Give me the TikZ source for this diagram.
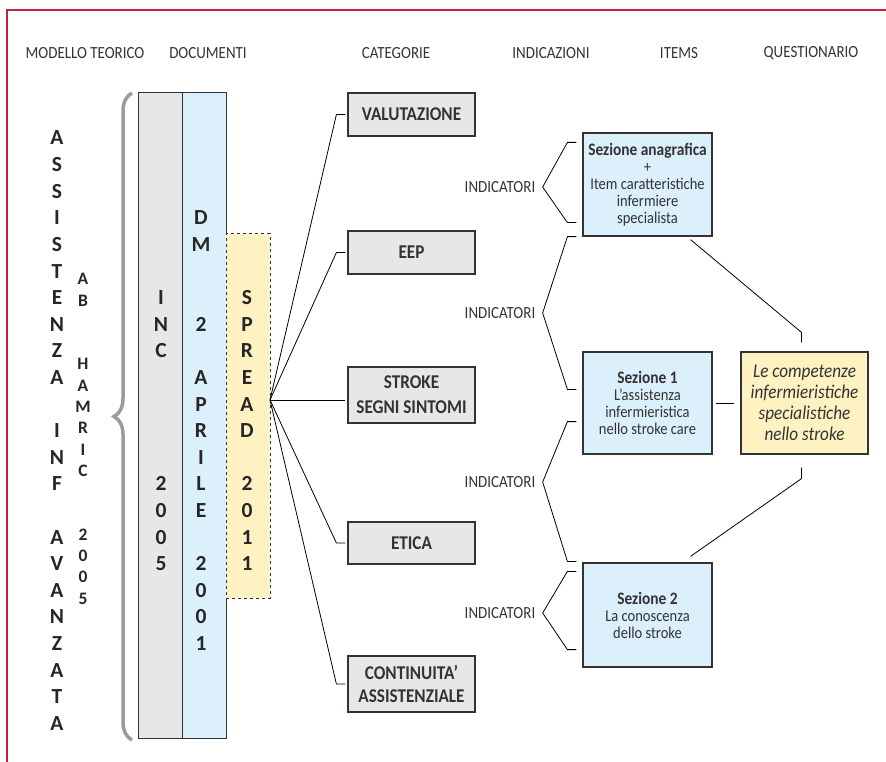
\documentclass[tikz,border=0pt]{standalone}
\usepackage{fontspec}
\setmainfont{Carlito}[FakeStretch=0.88]
\newfontfamily\letterfont{Carlito}
\usepackage{xcolor}
\usepackage{tikz}
\usetikzlibrary{positioning, decorations.pathreplacing}
\definecolor{framered}{HTML}{C8203A}
\definecolor{boxgray}{HTML}{E6E7E8}
\definecolor{boxblue}{HTML}{DBF0FB}
\definecolor{boxyellow}{HTML}{FEF1C2}
\definecolor{bracegray}{HTML}{9A9B9D}
\definecolor{inkgray}{HTML}{333333}

\begin{document}
\begin{tikzpicture}[x=1pt,y=-1pt,line width=0.8pt]
	\tikzstyle{head}=[font=\fontsize{17}{19}\selectfont, text=inkgray]
	\tikzstyle{letter}=[inner sep=0pt, text height=14pt, text depth=0pt, font=\letterfont\fontsize{21.5}{22}\selectfont\bfseries, text=black!85]
	\tikzstyle{smallletter}=[letter, text height=11.5pt, font=\letterfont\fontsize{17.5}{17}\selectfont\bfseries]
	\tikzstyle{column}=[draw=inkgray, line width=1pt, minimum width=44pt, inner sep=0pt]
	\tikzstyle{cat}=[draw=inkgray, line width=1.2pt, fill=boxgray, minimum width=127pt, align=center, inner sep=0pt, text=inkgray, font=\fontsize{19.5}{23}\selectfont\bfseries]
	\tikzstyle{item}=[draw=inkgray, line width=1.2pt, fill=boxblue, minimum width=129pt, align=center, inner sep=0pt, text=inkgray, font=\fontsize{16.5}{17}\selectfont]
	\tikzstyle{ind}=[font=\fontsize{17}{18}\selectfont, text=inkgray, inner sep=1pt]
	\useasboundingbox (0,0) rectangle (886,762);
	% frame
	\draw[framered, line width=2pt] (7,762) -- (7,10) -- (887,10);
	% headers
	\node[head](h1) at (85,53) {MODELLO TEORICO};
	\node[head](h2) at (208,53) {DOCUMENTI};
	\node[head](h3) at (396,53) {CATEGORIE};
	\node[head](h4) at (551,53) {INDICAZIONI};
	\node[head](h5) at (679,53) {ITEMS};
	\node[head](h6) at (811,53) {QUESTIONARIO};
	% modello teorico
	\foreach \ch [count=\i from 0] in {A,S,S,I,S,T,E,N,Z,A,,I,N,F,,A,V,A,N,Z,A,T,A}
		\node[letter](ass\i) at (57,138+26.6*\i) {\ch};
	\foreach \ch [count=\i from 0] in {A,B,,,H,A,M,R,I,C,,,2,0,0,5}
		\node[smallletter](ham\i) at (83,279+21.3*\i) {\ch};
	\draw[bracegray, line width=3.5pt, decorate, decoration={brace, amplitude=18pt}] (132,740) -- (132,93);
	% documenti
	\node[column, fill=boxgray, minimum height=645pt](inc) at (160,415.5) {};
	\node[column, fill=boxblue, minimum height=645pt](dm) at (204,415.5) {};
	\node[column, fill=boxyellow, dashed, minimum height=364pt](spread) at (248,416) {};
	\foreach \ch [count=\i from 6] in {I,N,C,,,,,2,0,0,5}
		\node[letter](inc\i) at (161,138+26.6*\i) {\ch};
	\foreach \ch [count=\i from 3] in {D,M,,,2,,A,P,R,I,L,E,,2,0,0,1}
		\node[letter](dm\i) at (201,138+26.6*\i) {\ch};
	\foreach \ch [count=\i from 6] in {S,P,R,E,A,D,,2,0,1,1}
		\node[letter](sp\i) at (247,138+26.6*\i) {\ch};
	\coordinate (fan) at (270,400);
	% categorie
	\node[cat, minimum height=43pt](val) at (411.5,114.5) {VALUTAZIONE};
	\node[cat, minimum height=43pt](eep) at (411.5,252.5) {EEP};
	\node[cat, minimum height=56pt](str) at (411.5,395) {STROKE\\[2pt]SEGNI SINTOMI};
	\node[cat, minimum height=42pt](eti) at (411.5,543) {ETICA};
	\node[cat, minimum height=56pt](con) at (411.5,684) {CONTINUITA’\\ASSISTENZIALE};
	\draw (fan) -- ([xshift=-11pt]val.west) -- ([xshift=-2pt]val.west);
	\draw (fan) -- ([xshift=-11pt]eep.west) -- ([xshift=-2pt]eep.west);
	\draw (fan) -- ([xshift=-2pt]fan -| str.west);
	\draw (fan) -- ([xshift=-11pt]eti.west) -- ([xshift=-2pt]eti.west);
	\draw (fan) -- ([xshift=-11pt]con.west) -- ([xshift=-2pt]con.west);
	% items
	\node[item, minimum height=103pt](sana) at (647.5,184.5) {\textbf{\fontsize{17.5}{17}\selectfont Sezione anagrafica}\\+\\Item caratteristiche\\infermiere\\specialista};
	\node[item, minimum height=102pt](sez1) at (647.5,403) {\textbf{\fontsize{17.5}{17}\selectfont Sezione 1}\\L’assistenza\\infermieristica\\nello stroke care};
	\node[item, minimum height=104pt](sez2) at (647.5,615) {\textbf{\fontsize{17.5}{17}\selectfont Sezione 2}\\La conoscenza\\dello stroke};
	% indicazioni
	\node[ind](ind1) at (500,187) {INDICATORI};
	\node[ind](ind2) at (500,313) {INDICATORI};
	\node[ind](ind3) at (500,482) {INDICATORI};
	\node[ind](ind4) at (500,613) {INDICATORI};
	\draw ([xshift=-6pt,yshift=-10pt]sana.north west) -- ++(-9,0) -- ([xshift=6pt]ind1.east) -- ([xshift=-15pt,yshift=14pt]sana.south west) -- ++(9,0);
	\draw ([xshift=-6pt]sana.south west) -- ++(-9,0) -- ([xshift=6pt]ind2.east) -- ([xshift=-15pt,yshift=-38pt]sez1.north west) -- ++(9,0);
	\draw ([xshift=-6pt,yshift=33pt]sez1.south west) -- ++(-9,0) -- ([xshift=6pt]ind3.east) -- ([xshift=-15pt,yshift=1pt]sez2.north west) -- ++(9,0);
	\draw ([xshift=-6pt,yshift=-9pt]sez2.north west) -- ++(-9,0) -- ([xshift=6pt]ind4.east) -- ([xshift=-15pt,yshift=18pt]sez2.south west) -- ++(9,0);
	% questionario
	\node[item, fill=boxyellow, minimum width=127pt, minimum height=102pt, font=\fontsize{19.5}{21}\selectfont\itshape](quest) at (804.5,403) {Le competenze\\infermieristiche\\specialistiche\\nello stroke};
	\draw ([xshift=3pt]sez1.east) -- ([xshift=-6pt]quest.west);
	\draw ([xshift=43pt,yshift=-3pt]sana.south) -- ([xshift=-3pt,yshift=19pt]quest.north) -- ([xshift=-3pt,yshift=9pt]quest.north);
	\draw ([xshift=43pt,yshift=6pt]sez2.north) -- ([xshift=-3pt,yshift=-24pt]quest.south) -- ([xshift=-3pt,yshift=-13pt]quest.south);
\end{tikzpicture}
\end{document}
